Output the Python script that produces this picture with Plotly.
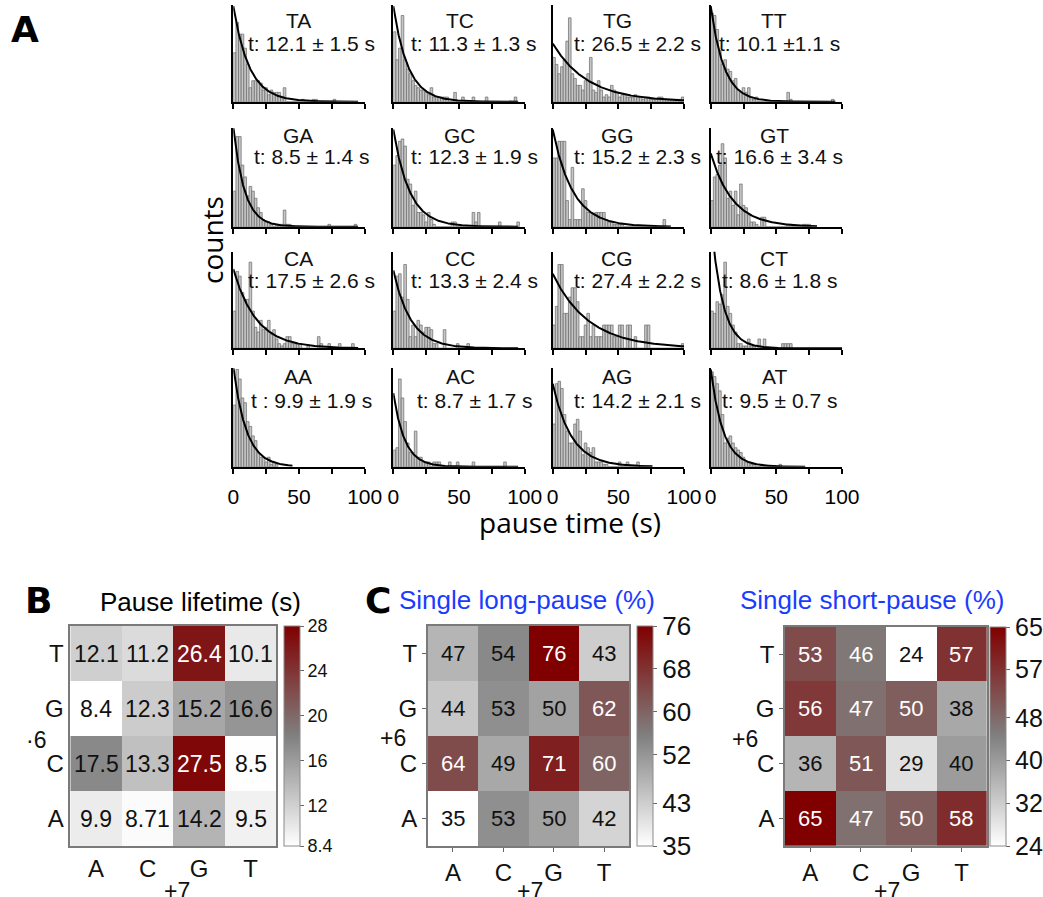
import numpy as np
import plotly.graph_objects as go

W, H = 1043, 897
FONT = "Liberation Sans, Arial, sans-serif"


def fx(px):
    return px / W


def fy(py):
    return 1 - py / H


def label(text, px, py, size, color="#111", family=FONT, angle=0):
    return dict(text=text, x=fx(px), y=fy(py), xref="paper", yref="paper",
                xanchor="center", yanchor="middle", showarrow=False, textangle=angle,
                font=dict(size=size, family=family, color=color))


# ---------------- Panel A: pause-time histograms ----------------
pairs = ["TA", "TC", "TG", "TT",
         "GA", "GC", "GG", "GT",
         "CA", "CC", "CG", "CT",
         "AA", "AC", "AG", "AT"]

tau = [12.1, 11.3, 26.5, 10.1,
       8.5, 12.3, 15.2, 16.6,
       17.5, 13.3, 27.4, 8.6,
       9.9, 8.7, 14.2, 9.5]

fit_labels = ["t: 12.1 \u00b1 1.5 s", "t: 11.3 \u00b1 1.3 s", "t: 26.5 \u00b1 2.2 s", "t: 10.1 \u00b11.1 s",
              "t: 8.5 \u00b1 1.4 s", "t: 12.3 \u00b1 1.9 s", "t: 15.2 \u00b1 2.3 s", "t: 16.6 \u00b1 3.4 s",
              "t: 17.5 \u00b1 2.6 s", "t: 13.3 \u00b1 2.4 s", "t: 27.4 \u00b1 2.2 s", "t: 8.6 \u00b1 1.8 s",
              "t : 9.9 \u00b1 1.9 s", "t: 8.7 \u00b1 1.7 s", "t: 14.2 \u00b1 2.1 s", "t: 9.5 \u00b1 0.7 s"]

# fitted amplitude (counts at t = 0) and last time of the drawn fit
fit_amp = [41, 41, 25, 41,
           42, 41, 41, 31,
           34, 33.5, 32, 57,
           42, 31, 35, 41]
fit_end = [95, 95, 100, 95,
           95, 95, 90, 81,
           95, 95, 100, 100,
           45, 95, 76, 72]

BIN = 2.0  # histogram bin width (s)

counts_TA = [21, 34, 29, 29, 23, 16, 6, 9, 9, 9, 8, 5, 6, 3, 5, 4, 4, 4, 2, 6, 0, 0, 0, 0, 0, 0, 1, 0, 0, 0, 1, 1, 0, 0, 0, 0, 0, 0, 1]
counts_TC = [30, 18, 23, 37, 18, 14, 12, 9, 7, 6, 5, 5, 4, 3, 6, 2, 2, 2, 2, 2, 2, 0, 0, 4, 0, 0, 2, 0, 0, 0, 2, 0, 0, 0, 0, 2, 0, 0, 0, 0, 0, 0, 0, 0, 0, 0, 2]
counts_TG = [19, 16, 12, 15, 18, 26, 36, 12, 10, 7, 7, 5, 9, 12, 19, 5, 4, 9, 5, 2, 3, 2, 7, 5, 4, 2, 3, 3, 2, 2, 2, 3, 2, 2, 1, 2, 2, 1, 1, 1, 2, 2, 1, 1, 1, 1, 1, 1, 1, 2]
counts_TT = [38, 37, 31, 22, 16, 18, 14, 13, 9, 10, 5, 4, 6, 4, 6, 2, 1, 2, 0, 0, 0, 0, 0, 0, 0, 0, 0, 0, 0, 4, 1, 0, 0, 0, 0, 0, 0, 0, 0, 0, 0, 0, 0, 0, 0, 0, 1]
counts_GA = [15, 38, 38, 26, 21, 13, 17, 15, 12, 8, 6, 3, 2, 2, 1, 0, 1, 1, 1, 7, 1, 1, 0, 0, 0, 0, 0, 0, 0, 0, 0, 0, 0, 0, 0, 0, 1, 0, 0, 0, 0, 0, 0, 0, 0, 0, 1]
counts_GC = [26, 30, 36, 37, 34, 20, 18, 9, 15, 6, 6, 5, 2, 6, 3, 1, 0, 0, 0, 0, 0, 0, 2, 2, 0, 0, 0, 0, 0, 0, 6, 2, 6, 0, 0, 0, 0, 0, 0, 0, 2, 0, 0, 0, 0, 0, 0, 2]
counts_GG = [29, 29, 36, 36, 36, 11, 3, 25, 3, 3, 3, 16, 11, 6, 6, 5, 6, 6, 6, 6, 3, 2, 2, 1, 1, 1, 1, 0, 0, 0, 0, 0, 0, 0, 0, 0, 0, 0, 0, 0, 0, 0, 3]
counts_GT = [11, 21, 22, 26, 35, 29, 12, 15, 9, 15, 5, 18, 9, 8, 5, 2, 2, 1, 0, 4, 4, 0, 0, 0, 0, 0, 0, 0, 0, 1, 1, 0, 0, 0, 0, 1, 1, 1]
counts_CA = [16, 33, 31, 24, 21, 21, 37, 16, 9, 7, 12, 8, 9, 12, 6, 8, 4, 2, 1, 2, 5, 5, 2, 2, 2, 2, 0, 0, 1, 0, 0, 0, 5, 2, 0, 0, 2, 0, 0, 0, 2, 0, 0, 0, 0, 2]
counts_CC = [16, 31, 32, 22, 36, 21, 5, 10, 5, 12, 10, 7, 9, 9, 8, 2, 2, 0, 0, 8, 0, 0, 0, 0, 2, 0, 0, 0, 2]
counts_CG = [10, 18, 36, 36, 15, 15, 22, 26, 26, 20, 5, 5, 10, 15, 5, 10, 5, 5, 5, 10, 10, 10, 10, 5, 5, 10, 10, 0, 10, 10, 0, 5, 0, 0, 0, 10, 10, 0, 0, 0, 0, 0, 0, 0, 0, 0, 0, 0, 0, 2]
counts_CT = [16, 15, 20, 19, 23, 37, 18, 15, 10, 7, 2, 2, 1, 1, 4, 1, 1, 0, 4, 0, 4, 0, 0, 0, 0, 0, 0, 2, 2, 2, 2]
counts_AA = [26, 41, 37, 29, 27, 19, 17, 13, 11, 6, 4, 4, 2, 4, 1, 2, 1]
counts_AC = [7, 8, 37, 29, 19, 10, 6, 6, 15, 4, 4, 2, 2, 2, 0, 2, 2, 2, 0, 0, 0, 2, 0, 0, 2, 0, 0, 0, 0, 0, 2, 0, 0, 0, 0, 0, 0, 0, 0, 0, 0, 0, 2]
counts_AG = [18, 35, 36, 33, 22, 15, 10, 10, 18, 20, 15, 5, 10, 8, 6, 8, 2, 2, 2, 1, 1, 0, 0, 0, 0, 2, 0, 0, 2, 0, 0, 0, 2]
counts_AT = [40, 38, 35, 32, 22, 10, 12, 13, 10, 8, 7, 6, 4, 2, 2, 1, 1, 0, 0, 1, 0, 0, 0, 0, 0, 0, 1]

hist_counts = [counts_TA, counts_TC, counts_TG, counts_TT,
               counts_GA, counts_GC, counts_GG, counts_GT,
               counts_CA, counts_CC, counts_CG, counts_CT,
               counts_AA, counts_AC, counts_AG, counts_AT]

x_ticks = [0, 25, 50, 75, 100]
x_tick_text = ["0", "", "50", "", "100"]

# panel placement in pixels
col_px = [(233.3, 364.7), (393.3, 524.7), (552.7, 684.0), (710.7, 842.0)]
row_px = [(5.0, 101.7), (128.3, 226.7), (251.7, 348.3), (368.3, 466.7)]
title_cx = [298, 460, 617, 774]
label_cx = [311, 474, 637, 779]
title_cy = [20.7, 135, 258.3, 376.7]
label_cy = [43, 157, 280, 400]

# ---------------- Panels B and C: heatmaps ----------------
nt7 = ["A", "C", "G", "T"]          # +7 position (columns)
nt6 = ["A", "C", "G", "T"]          # +6 position (rows, bottom to top)

# rows ordered A, C, G, T (bottom to top)
lifetime = [[9.9, 8.71, 14.2, 9.5],
            [17.5, 13.3, 27.5, 8.5],
            [8.4, 12.3, 15.2, 16.6],
            [12.1, 11.2, 26.4, 10.1]]
long_pause = [[35, 53, 50, 42],
              [64, 49, 71, 60],
              [44, 53, 50, 62],
              [47, 54, 76, 43]]
short_pause = [[65, 47, 50, 58],
               [36, 51, 29, 40],
               [56, 47, 50, 38],
               [53, 46, 24, 57]]

lifetime_ticks = [8.4, 12, 16, 20, 24, 28]
long_ticks = [35, 43, 52, 60, 68, 76]
short_ticks = [24, 32, 40, 48, 57, 65]

scale = [[0.0, "#ffffff"], [0.5, "#808080"], [1.0, "#800000"]]

fig = go.Figure()
layout = dict(
    width=W, height=H,
    margin=dict(l=0, r=0, t=0, b=0, autoexpand=False),
    paper_bgcolor="white", plot_bgcolor="white",
    showlegend=False,
    font=dict(family=FONT, color="black"),
)
annotations = []

for k, name in enumerate(pairs):
    r, c = divmod(k, 4)
    n = k + 1
    xa, ya = f"x{n}", f"y{n}"
    xkey, ykey = f"xaxis{n}", f"yaxis{n}"
    cnt = hist_counts[k]
    centers = [BIN * (i + 0.5) for i in range(len(cnt))]
    fig.add_trace(go.Bar(
        x=centers, y=cnt, width=BIN,
        marker=dict(color="#c6c6c6", line=dict(color="#686868", width=0.7)),
        xaxis=xa, yaxis=ya, hoverinfo="skip"))
    t = np.linspace(0, fit_end[k], 300)
    fig.add_trace(go.Scatter(
        x=t, y=fit_amp[k] * np.exp(-t / tau[k]), mode="lines",
        line=dict(color="black", width=2), xaxis=xa, yaxis=ya, hoverinfo="skip"))
    x0, x1 = col_px[c]
    y0, y1 = row_px[r]
    layout[xkey] = dict(
        domain=[fx(x0), fx(x1)], anchor=ya, range=[0, 100],
        showline=True, linecolor="black", linewidth=1.6,
        ticks="outside", ticklen=5, tickwidth=1.5, tickcolor="black",
        tickvals=x_ticks, ticktext=x_tick_text,
        showticklabels=(r == 3), tickfont=dict(size=21, family=FONT),
        ticklabelstandoff=5,
        showgrid=False, zeroline=False)
    layout[ykey] = dict(
        domain=[fy(y1), fy(y0)], anchor=xa, range=[0, 41.5],
        showline=True, linecolor="black", linewidth=1.6,
        ticks="", showticklabels=False, showgrid=False, zeroline=False)
    annotations.append(label(name, title_cx[c], title_cy[r], 21))
    annotations.append(label(fit_labels[k], label_cx[c], label_cy[r], 21))

annotations.append(label("pause time (s)", 570, 522, 28, color="black", family="Open Sans"))
annotations.append(label("counts", 212, 240, 28, color="black", family="Open Sans", angle=-90))

# heatmap panels
heat_specs = [
    dict(z=lifetime, ticks=lifetime_ticks, box=(70.3, 276.3, 626, 846), cbx=284,
         cbfont=18, cellfont=23, axticks=False, title="Pause lifetime (s)",
         title_xy=(200, 602), title_color="black", six=("\u00b76", 36, 740),
         seven=(177, 891)),
    dict(z=long_pause, ticks=long_ticks, box=(427.7, 629.3, 626, 846), cbx=637.3,
         cbfont=26, cellfont=22, axticks=True, title="Single long-pause (%)",
         title_xy=(527, 600), title_color="#1a3cff", six=("+6", 393, 738),
         seven=(530, 891)),
    dict(z=short_pause, ticks=short_ticks, box=(785, 986.7, 626.7, 846), cbx=990,
         cbfont=25, cellfont=22, axticks=True, title="Single short-pause (%)",
         title_xy=(872, 600), title_color="#1a3cff", six=("+6", 745, 739),
         seven=(887, 891)),
]

for j, spec in enumerate(heat_specs):
    n = 17 + j
    xa, ya = f"x{n}", f"y{n}"
    zmin, zmax = spec["ticks"][0], spec["ticks"][-1]
    bx0, bx1, by0, by1 = spec["box"]
    fig.add_trace(go.Heatmap(
        z=spec["z"], x=nt7, y=nt6, zmin=zmin, zmax=zmax, colorscale=scale,
        xaxis=xa, yaxis=ya, hoverinfo="skip", xgap=0, ygap=0,
        colorbar=dict(
            x=fx(spec["cbx"]), xanchor="left", xpad=0,
            y=fy(by1), yanchor="bottom", ypad=0,
            len=by1 - by0, lenmode="pixels", thickness=16, thicknessmode="pixels",
            outlinewidth=1, outlinecolor="#8a8a8a",
            tickvals=spec["ticks"], ticktext=[f"{v:g}" for v in spec["ticks"]],
            ticks="outside", ticklen=4, tickcolor="#666",
            tickfont=dict(size=spec["cbfont"], family=FONT, color="#111"))))
    tick_mode = "outside" if spec["axticks"] else ""
    layout[f"xaxis{n}"] = dict(
        domain=[fx(bx0), fx(bx1)], anchor=ya, type="category",
        categoryorder="array", categoryarray=nt7, range=[-0.5, 3.5],
        showline=True, mirror=True, linecolor="#7a7a7a", linewidth=1.5,
        ticks=tick_mode, ticklen=4, tickcolor="#666",
        tickfont=dict(size=24, family=FONT, color="#111"),
        showgrid=False, zeroline=False)
    layout[f"yaxis{n}"] = dict(
        domain=[fy(by1), fy(by0)], anchor=xa, type="category",
        categoryorder="array", categoryarray=nt6, range=[-0.5, 3.5],
        showline=True, mirror=True, linecolor="#7a7a7a", linewidth=1.5,
        ticks=tick_mode, ticklen=4, tickcolor="#666",
        tickfont=dict(size=24, family=FONT, color="#111"),
        showgrid=False, zeroline=False)
    for ri, row in enumerate(spec["z"]):
        for ci, v in enumerate(row):
            frac = (v - zmin) / (zmax - zmin)
            annotations.append(dict(
                text=f"{v:g}", x=nt7[ci], y=nt6[ri], xref=xa, yref=ya,
                xanchor="center", yanchor="middle", showarrow=False,
                font=dict(size=spec["cellfont"], family=FONT,
                          color="white" if frac > 0.5 else "#111")))
    tx, ty = spec["title_xy"]
    annotations.append(label(spec["title"], tx, ty, 26, color=spec["title_color"]))
    s_text, s_x, s_y = spec["six"]
    annotations.append(label(s_text, s_x, s_y, 23))
    sx, sy = spec["seven"]
    annotations.append(label("+7", sx, sy, 23))

# panel letters
for letter, lx, ly in [("A", 25, 30), ("B", 38, 600), ("C", 378, 600)]:
    annotations.append(label(f"<b>{letter}</b>", lx, ly, 36, color="black", family="DejaVu Sans"))

layout["annotations"] = annotations
fig.update_layout(**layout)
fig.write_html("out.html")
